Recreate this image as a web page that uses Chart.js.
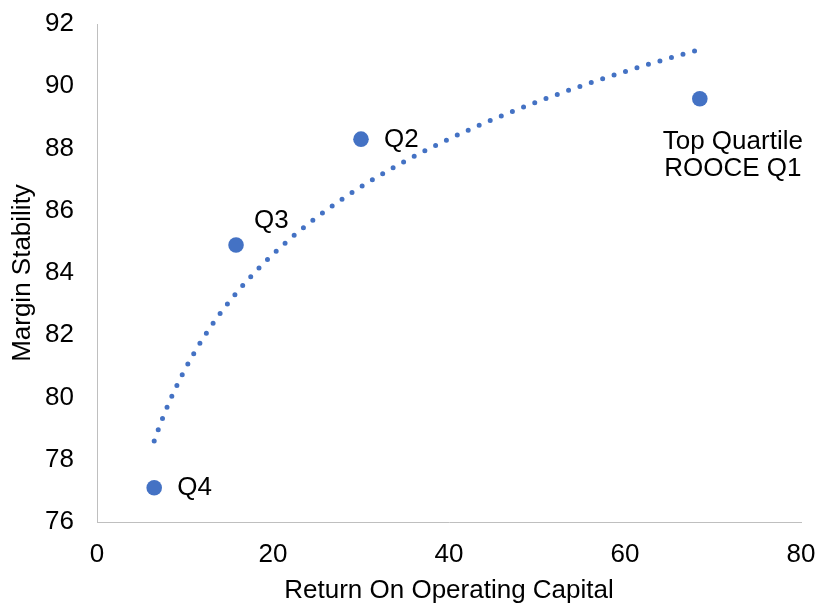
<!DOCTYPE html>
<html>
<head>
<meta charset="utf-8">
<script src="https://cdn.jsdelivr.net/npm/chart.js@4/dist/chart.umd.min.js"></script>
<style>
  html, body { margin: 0; padding: 0; background: #ffffff; }
  #wrap { width: 819px; height: 606px; }
</style>
</head>
<body>
<div id="wrap"><canvas id="chart" width="819" height="606"></canvas></div>
<script>
// Quartile groups: return on operating capital (%) vs margin stability
const quartileNames = ['Q4', 'Q3', 'Q2', ['Top Quartile', 'ROOCE Q1']];
const returnOnCapital = [6.5, 15.8, 30.0, 68.5];
const marginStability = [77.1, 84.9, 88.3, 89.6];

const xTicks = [0, 20, 40, 60, 80];
const yTicks = [76, 78, 80, 82, 84, 86, 88, 90, 92];

const BLUE = '#4472C4';
const FONT = '"Liberation Sans", Arial, sans-serif';

// Logarithmic trendline (least squares on ln x), sampled across the data range
function logTrend(xs, ys, steps) {
  const n = xs.length;
  const lx = xs.map(Math.log);
  const mx = lx.reduce((a, b) => a + b, 0) / n;
  const my = ys.reduce((a, b) => a + b, 0) / n;
  let sxy = 0, sxx = 0;
  for (let i = 0; i < n; i++) {
    sxy += (lx[i] - mx) * (ys[i] - my);
    sxx += (lx[i] - mx) * (lx[i] - mx);
  }
  const slope = sxy / sxx;
  const icpt = my - slope * mx;
  const lo = Math.min(...xs), hi = Math.max(...xs);
  const out = [];
  for (let k = 0; k <= steps; k++) {
    const x = lo + (hi - lo) * k / steps;
    out.push({ x: x, y: icpt + slope * Math.log(x) });
  }
  return out;
}

const points = returnOnCapital.map((x, i) => ({ x: x, y: marginStability[i] }));

// Per-label placement relative to its marker
const labelPlacement = [
  { dx: 23, dy: 0, align: 'left' },
  { dx: 18, dy: -24, align: 'left' },
  { dx: 23, dy: 1, align: 'left' },
  { dx: 33, dy: 43, align: 'center', lineGap: 27 }
];

const pointLabels = {
  id: 'pointLabels',
  afterDatasetsDraw(chart) {
    const meta = chart.getDatasetMeta(1);
    const ctx = chart.ctx;
    ctx.save();
    ctx.fillStyle = '#000000';
    ctx.font = '26px ' + FONT;
    ctx.textBaseline = 'middle';
    meta.data.forEach((el, i) => {
      const p = labelPlacement[i];
      const text = quartileNames[i];
      const lines = Array.isArray(text) ? text : [text];
      ctx.textAlign = p.align;
      lines.forEach((line, j) => {
        ctx.fillText(line, el.x + p.dx, el.y + p.dy + j * (p.lineGap || 0));
      });
    });
    ctx.restore();
  }
};

new Chart(document.getElementById('chart'), {
  type: 'scatter',
  data: {
    datasets: [
      {
        label: 'Log trend',
        data: logTrend(returnOnCapital, marginStability, 400),
        showLine: true,
        fill: false,
        borderColor: BLUE,
        borderWidth: 5,
        borderDash: [0, 12],
        borderCapStyle: 'round',
        pointRadius: 0,
        pointHoverRadius: 0,
        order: 2
      },
      {
        label: 'Quartiles',
        data: points,
        backgroundColor: BLUE,
        borderColor: BLUE,
        borderWidth: 0,
        pointRadius: 7.8,
        pointHoverRadius: 7.8,
        order: 1
      }
    ]
  },
  options: {
    responsive: false,
    animation: false,
    events: [],
    layout: { padding: { left: 0, right: 18, top: 24, bottom: 0 } },
    plugins: {
      legend: { display: false },
      tooltip: { enabled: false }
    },
    scales: {
      x: {
        type: 'linear',
        min: xTicks[0],
        max: xTicks[xTicks.length - 1],
        afterBuildTicks(scale) { scale.ticks = xTicks.map(v => ({ value: v })); },
        afterFit(scale) {
          scale.height = 84;
          scale.paddingLeft = 0;
          scale.paddingRight = 0;
        },
        grid: { display: true, color: 'rgba(0,0,0,0)', drawTicks: false, tickLength: 0 },
        border: { display: true, color: '#BFBFBF', width: 1 },
        ticks: { color: '#000000', font: { family: FONT, size: 26 }, padding: 17, maxRotation: 0 },
        title: {
          display: true,
          text: 'Return On Operating Capital',
          color: '#000000',
          font: { family: FONT, size: 26 },
          padding: { top: 0, bottom: 0 }
        }
      },
      y: {
        type: 'linear',
        min: yTicks[0],
        max: yTicks[yTicks.length - 1],
        afterBuildTicks(scale) { scale.ticks = yTicks.map(v => ({ value: v })); },
        afterFit(scale) {
          scale.width = 97;
          scale.paddingTop = 0;
          scale.paddingBottom = 0;
        },
        grid: { display: true, color: 'rgba(0,0,0,0)', drawTicks: false, tickLength: 0 },
        border: { display: true, color: '#BFBFBF', width: 1 },
        ticks: { color: '#000000', font: { family: FONT, size: 26 }, padding: 23 },
        title: {
          display: true,
          text: 'Margin Stability',
          color: '#000000',
          font: { family: FONT, size: 26 },
          padding: { top: 7, bottom: 0 }
        }
      }
    }
  },
  plugins: [pointLabels]
});
</script>
</body>
</html>
